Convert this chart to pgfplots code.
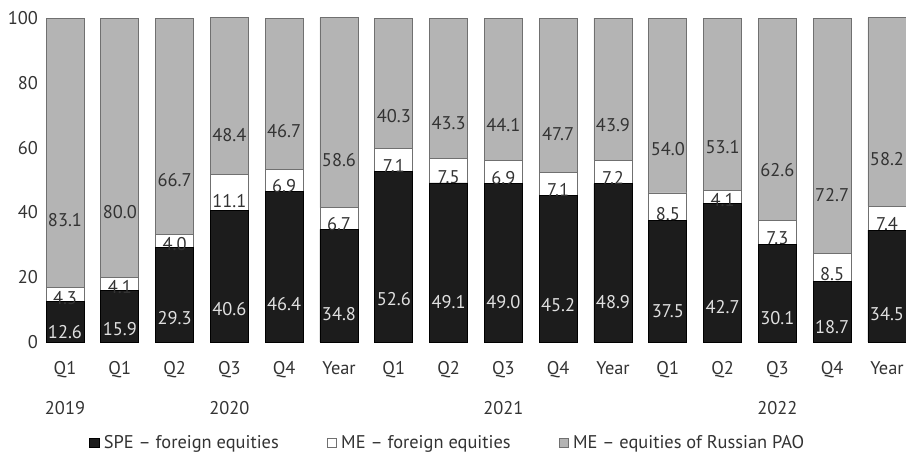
\documentclass[border=0pt]{standalone}
\usepackage{pgfplots}
\usepackage{pgfplotstable}
\pgfplotsset{compat=1.18}
\usepackage{fontspec}
\setmainfont{PT Sans}

\definecolor{spe}{HTML}{1C1C1C}
\definecolor{mepao}{HTML}{B4B4B4}
\definecolor{edge}{HTML}{707070}
\definecolor{lbl}{HTML}{333333}

% shares of equities, %
\pgfplotstableread{
idx spe  mefor mepao
0   12.6 4.3   83.1
1   15.9 4.1   80.0
2   29.3 4.0   66.7
3   40.6 11.1  48.4
4   46.4 6.9   46.7
5   34.8 6.7   58.6
6   52.6 7.1   40.3
7   49.1 7.5   43.3
8   49.0 6.9   44.1
9   45.2 7.1   47.7
10  48.9 7.2   43.9
11  37.5 8.5   54.0
12  42.7 4.1   53.1
13  30.1 7.3   62.6
14  18.7 8.5   72.7
15  34.5 7.4   58.2
}\shares

\begin{document}
\begin{tikzpicture}[font=\fontsize{9.2}{11}\selectfont]
\begin{axis}[
    ybar stacked,
    scale only axis,
    width=430.5pt, height=162pt,
    bar width=19pt,
    xmin=-0.365, xmax=15.347,
    ymin=0, ymax=100,
    clip=false,
    axis x line=bottom, axis y line=left,
    axis line style={draw=none},
    major tick length=0pt,
    xtick={0,...,15},
    xticklabels={Q1,Q1,Q2,Q3,Q4,Year,Q1,Q2,Q3,Q4,Year,Q1,Q2,Q3,Q4,Year},
    ytick={0,20,...,100},
    xticklabel style={anchor=center, yshift=-13pt, text height=1.6ex, text depth=0.25ex, text=lbl},
    yticklabel style={text=lbl},
    /pgf/number format/assume math mode=true,
    legend columns=3,
    legend style={draw=none, at={(0.469,0)}, anchor=center, yshift=-50.5pt,
        text=lbl, /tikz/every even column/.append style={column sep=22pt}},
    legend image code/.code={\draw[#1] (0pt,-2.4pt) rectangle (4.8pt,2.4pt);},
    point meta=explicit,
    nodes near coords={\pgfmathprintnumber[fixed,fixed zerofill,precision=1]{\pgfplotspointmeta}},
    visualization depends on={rawy \as \rawy},
    every node near coord/.append style={anchor=center, yshift={-0.405pt*\rawy}, text=lbl},
]
\addplot[fill=spe, draw=black, every node near coord/.append style={text=white!88!black}]
    table[x=idx, y=spe, meta=spe] {\shares};
\addplot[fill=white, draw=edge]
    table[x=idx, y=mefor, meta=mefor] {\shares};
\addplot[fill=mepao, draw=edge]
    table[x=idx, y=mepao, meta=mepao] {\shares};
\legend{SPE -- foreign equities, ME -- foreign equities, ME -- equities of Russian PAO}

\node[text=lbl] at (axis cs:0,0) [yshift=-33pt] {2019};
\node[text=lbl] at (axis cs:3,0) [yshift=-33pt] {2020};
\node[text=lbl] at (axis cs:8,0) [yshift=-33pt] {2021};
\node[text=lbl] at (axis cs:13,0) [yshift=-33pt] {2022};
\end{axis}
\pgfresetboundingbox
\path[use as bounding box] ([xshift=-22.5pt,yshift=-60pt]current axis.south west)
    rectangle ([yshift=9pt]current axis.north east);
\end{tikzpicture}
\end{document}
